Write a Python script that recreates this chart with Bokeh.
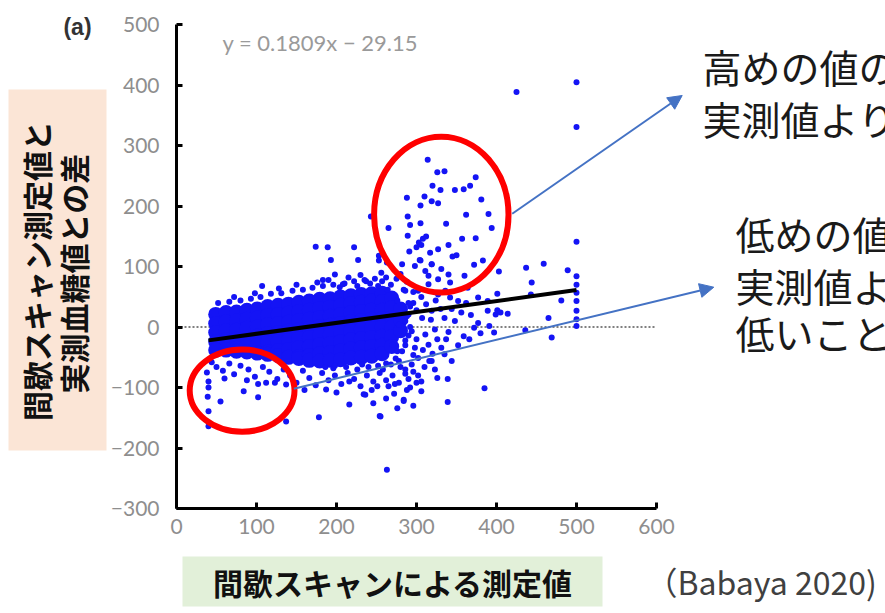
from bokeh.plotting import figure
from bokeh.models import Range1d, FixedTicker, Label, BoxAnnotation, Arrow, NormalHead, LinearAxis
from bokeh.core.properties import value
from bokeh.embed import file_html
from bokeh.resources import INLINE

# ---------------- data ----------------
x_ticks = [0, 100, 200, 300, 400, 500, 600]
y_ticks = [-300, -200, -100, 0, 100, 200, 300, 400, 500]

# dense core of the cloud (drawn with larger dots)
core_pts = [
    (49, 21), (49, 6), (49, -9), (49, -24), (49, -38),
    (62, 24), (62, 9), (62, -6), (62, -21), (62, -38),
    (75, 25), (75, 10), (75, -5), (75, -20), (75, -35), (75, -40),
    (88, 28), (88, 13), (88, -2), (88, -17), (88, -32), (88, -41),
    (101, 30), (101, 15), (101, 0), (101, -15), (101, -30), (101, -43),
    (114, 34), (114, 19), (114, 4), (114, -11), (114, -26), (114, -41), (114, -45),
    (127, 36), (127, 21), (127, 6), (127, -9), (127, -24), (127, -39), (127, -47),
    (140, 38), (140, 23), (140, 8), (140, -7), (140, -22), (140, -37), (140, -50),
    (153, 41), (153, 26), (153, 11), (153, -4), (153, -19), (153, -34), (153, -49), (153, -52),
    (166, 43), (166, 28), (166, 13), (166, -2), (166, -17), (166, -32), (166, -47), (166, -55),
    (179, 46), (179, 31), (179, 16), (179, 1), (179, -14), (179, -29), (179, -44), (179, -56),
    (192, 47), (192, 33), (192, 18), (192, 3), (192, -12), (192, -27), (192, -42), (192, -55),
    (205, 50), (205, 36), (205, 21), (205, 6), (205, -9), (205, -24), (205, -39), (205, -54),
    (218, 52), (218, 39), (218, 24), (218, 9), (218, -6), (218, -21), (218, -36), (218, -51),
    (231, 54), (231, 41), (231, 26), (231, 11), (231, -4), (231, -19), (231, -34), (231, -50),
    (244, 55), (244, 43), (244, 28), (244, 13), (244, -2), (244, -17), (244, -32), (244, -48),
    (257, 56), (257, 42), (257, 28), (257, 14), (257, 0), (257, -15), (257, -30), (257, -44),
    (269, 48), (269, 32), (269, 16), (269, 0), (269, -16), (269, -32),
    (280, 30), (280, 12), (280, -6),
]
upper_edge = [
    (52, 40), (66, 42), (80, 44), (93, 47), (105, 50), (118, 55), (131, 56), (145, 60),
    (158, 62), (170, 65), (183, 68), (196, 70), (210, 72), (222, 76), (235, 78), (248, 80),
    (262, 82), (275, 80), (288, 75), (72, 50), (128, 64), (190, 78), (230, 86), (256, 90),
    (280, 88), (98, 56), (150, 70), (176, 74), (215, 82), (242, 72), (268, 70), (286, 60),
    (204, 66), (226, 68), (252, 68),
]
lower_edge = [
    (44, -58), (50, -66), (58, -72), (66, -60), (72, -78), (80, -64), (90, -70), (98, -82),
    (108, -66), (116, -74), (126, -86), (134, -70), (142, -80), (150, -92), (158, -72),
    (166, -84), (174, -96), (182, -76), (190, -88), (198, -80), (206, -94), (214, -76),
    (222, -86), (230, -98), (238, -80), (246, -90), (254, -76), (262, -88), (270, -80),
    (278, -92), (286, -70), (290, -86), (60, -85), (88, -88), (112, -92), (160, -104),
    (200, -108), (244, -104), (272, -110), (292, -100), (186, -66), (196, -68), (212, -66),
    (226, -70), (240, -66), (252, -64), (262, -60), (274, -52), (276, -40), (286, -30),
    (290, -14), (288, 18), (292, 34), (276, 44), (264, 62), (232, -62), (198, -64),
]
high_pts = [
    (107, 68), (174, 133), (189, 132), (222, 132), (193, 111), (227, 111), (198, 87), (183, 78),
    (208, 71), (237, 76), (257, 76), (253, 118), (263, 107), (282, 104), (243, 183), (253, 110),
    (265, 164), (288, 214), (289, 183), (291, 125), (289, 151), (292, 169), (298, 101), (302, 60),
    (304, 111), (305, 201), (305, 172), (310, 216), (311, 93), (314, 277), (315, 71), (315, 85),
    (317, 123), (319, 208), (319, 104), (320, 234), (326, 256), (327, 205), (327, 129), (327, 54),
    (327, 79), (330, 227), (331, 96), (335, 258), (337, 171), (340, 136), (340, 87), (342, 49),
    (342, 74), (345, 117), (348, 227), (350, 119), (352, 43), (357, 146), (359, 228), (360, 85),
    (362, 186), (364, 65), (367, 234), (372, 103), (374, 248), (374, 147), (377, 49), (381, 211),
    (383, 110), (389, 43), (390, 187), (394, 164), (401, 55), (403, 92), (425, 389), (437, 98),
    (443, 54), (444, 74), (459, 105), (465, 15), (469, -17), (481, 44), (489, 94), (303, 140),
    (308, 146), (312, 150), (306, 136), (300, 132), (305, 110), (319, 104),
]
mid_pts = [
    (296, 40), (300, 28), (306, 50), (312, 38), (318, 12), (324, 44), (330, 30), (336, 60),
    (344, 30), (356, 24), (362, 40), (368, 20), (300, -20), (308, -38), (320, -44), (326, -20),
    (340, -8), (352, -30), (366, -20), (380, -10), (310, -66), (326, -84), (306, -90), (296, -46),
    (286, -22), (292, 0), (286, 10), (290, 40), (296, 58), (284, 62), (307, 15), (319, 27),
    (290, 21), (278, 4), (294, -7), (311, -12), (335, 15), (348, 10), (323, -4), (298, -34),
    (282, -40), (270, -29), (315, -29), (331, -34), (335, -45), (302, -51), (278, -56), (294, -62),
    (319, -56), (389, 27), (399, 21), (401, 28), (405, 24), (414, 22), (436, -5), (372, -1),
    (377, 7), (391, 2), (397, -9), (359, -15), (337, -20), (344, -56), (323, -70), (316, -56),
    (302, -80), (286, -77),
]
low_pts = [
    (339, -86), (385, -101), (339, -124), (284, -122), (276, -134), (255, -148), (263, -236),
    (265, -98), (273, -94), (39, -115), (55, -123), (84, -106), (102, -116), (102, -94),
    (123, -92), (137, -156), (178, -149), (216, -128), (236, -112), (254, -147), (284, -120),
    (40, -139), (40, -164), (137, -95), (251, -98), (216, -90), (187, -103), (234, -111),
    (38, -75), (40, -90), (40, -100), (258, -70), (268, -62), (280, -66), (296, -74),
    (300, -92), (288, -104), (262, -118), (246, -126), (296, -130), (306, -106),
]
max_x = [500, 500, 500, 500, 500, 500, 500, 500, 500, 500]
max_y = [405, 331, 141, 84, 70, 57, 43, 27, 13, 2]

reg_x = [40, 500]
reg_y = [-21.9, 61.3]
zero_x = [0, 600]
zero_y = [0, 0]

ell_x = [331, 82]
ell_y = [186, -105]
ell_w = [168, 131]
ell_h = [258, 136]


# ---------------- layout helpers (page pixel -> data) ----------------
def dx(sx):
    return (sx - 176) / 0.8


def dy(sy):
    return -300 + (508 - sy) / 0.6046


BLUE = "#1414f5"

p = figure(width=885, height=613, output_backend="svg", toolbar_location=None,
           x_range=Range1d(dx(0), dx(885)), y_range=Range1d(dy(613), dy(0)),
           x_axis_location=None, y_axis_location=None,
           min_border_left=0, min_border_right=0, min_border_top=0, min_border_bottom=0)
p.outline_line_color = None
p.grid.visible = False
p.background_fill_color = "white"
p.border_fill_color = "white"

xaxis = LinearAxis(fixed_location=-300)
yaxis = LinearAxis(fixed_location=0)
p.add_layout(xaxis, "below")
p.add_layout(yaxis, "left")
for ax, bnds, ticks, standoff in ((xaxis, (0, 600), x_ticks, 10), (yaxis, (-300, 500), y_ticks, 17)):
    ax.bounds = bnds
    ax.ticker = FixedTicker(ticks=ticks)
    ax.axis_line_width = 3
    ax.axis_line_color = "black"
    ax.major_tick_in = 6
    ax.major_tick_out = 0
    ax.major_tick_line_width = 3
    ax.minor_tick_line_color = None
    ax.major_label_text_font = "Lato"
    ax.major_label_text_font_size = "21px"
    ax.major_label_text_color = "#8e8e8e"
    ax.major_label_standoff = standoff

# axis title boxes (underneath everything)
p.add_layout(BoxAnnotation(left=dx(8), right=dx(106), top=dy(89), bottom=dy(450),
                           fill_color="#fbe5d6", fill_alpha=1, line_color=None, level="underlay"))
p.add_layout(BoxAnnotation(left=dx(182), right=dx(602), top=dy(556), bottom=dy(606),
                           fill_color="#e2f0d9", fill_alpha=1, line_color=None, level="underlay"))

# zero reference line
p.line(zero_x, zero_y, line_color="#555555", line_width=1.5, line_dash="2 2")

# scatter
p.scatter([q[0] for q in core_pts], [q[1] for q in core_pts], size=15, color=BLUE, line_color=None)
for pts in (upper_edge, lower_edge, high_pts, mid_pts, low_pts):
    p.scatter([q[0] for q in pts], [q[1] for q in pts], size=6, color=BLUE, line_color=None)
p.scatter(max_x, max_y, size=6, color=BLUE, line_color=None)

# regression line
p.line(reg_x, reg_y, line_color="black", line_width=4)

# red ellipses
p.ellipse(x=ell_x, y=ell_y, width=ell_w, height=ell_h, fill_color=None,
          line_color="#ff0000", line_width=6)

# arrows
ARROW = "#4472c4"
for (x0, y0, x1, y1) in ((dx(511.7), dy(213.3), dx(681.7), dy(95)),
                         (dx(293.3), dy(388.3), dx(713.3), dy(286.7))):
    p.add_layout(Arrow(end=NormalHead(size=14, fill_color=ARROW, line_color=ARROW),
                       x_start=x0, y_start=y0, x_end=x1, y_end=y1,
                       line_color=ARROW, line_width=2))

# annotation texts on the right (cut by the page edge, as in the reference)
JP = value("Noto Sans CJK JP")
p.text(x=[dx(702), dx(702)], y=[dy(65.5), dy(117.5)],
       text=["高めの値の", "実測値より"], text_font=JP, text_font_size="39px",
       text_baseline="middle", text_align="left", text_color="#1a1a1a")
p.text(x=[dx(735), dx(735), dx(735)], y=[dy(232.5), dy(284.5), dy(331.5)],
       text=["低めの値", "実測値よ", "低いこと"], text_font=JP, text_font_size="39px",
       text_baseline="middle", text_align="left", text_color="#1a1a1a")

# equation and panel tag
p.add_layout(Label(x=dx(222), y=dy(42), text="y = 0.1809x − 29.15", text_font="Lato",
                   text_font_size="22px", text_color="#9a9a9a", text_baseline="middle"))
p.add_layout(Label(x=dx(77), y=dy(26), text="(a)", text_font="Liberation Sans",
                   text_font_style="bold", text_font_size="23px", text_color="#333333",
                   text_align="center", text_baseline="middle"))

# axis titles
p.add_layout(Label(x=dx(35), y=dy(270.5), text="間歇スキャン測定値と", angle=90, angle_units="deg",
                   text_font="Noto Sans CJK JP", text_font_style="bold", text_font_size="30px",
                   text_color="#111111", text_align="center", text_baseline="middle"))
p.add_layout(Label(x=dx(72), y=dy(273), text="実測血糖値との差", angle=90, angle_units="deg",
                   text_font="Noto Sans CJK JP", text_font_style="bold", text_font_size="30px",
                   text_color="#111111", text_align="center", text_baseline="middle"))
p.add_layout(Label(x=dx(392.5), y=dy(581), text="間歇スキャンによる測定値",
                   text_font="Noto Sans CJK JP", text_font_style="bold", text_font_size="30px",
                   text_color="#111111", text_align="center", text_baseline="middle"))

# citation
p.add_layout(Label(x=dx(645), y=dy(580), text="（Babaya 2020)",
                   text_font="Noto Sans CJK JP", text_font_size="32px",
                   text_color="#404040", text_align="left", text_baseline="middle"))

open("out.html", "w").write(file_html(p, INLINE))
